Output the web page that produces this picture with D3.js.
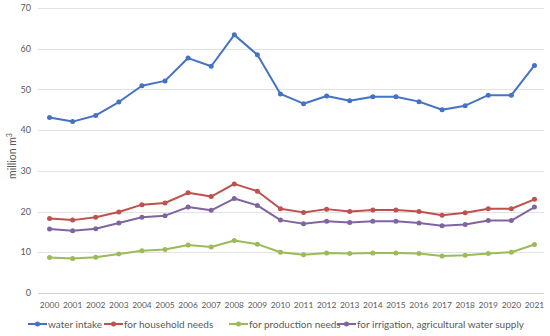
<!DOCTYPE html>
<html>
<head>
<meta charset="utf-8">
<script src="https://cdn.jsdelivr.net/npm/d3@7"></script>
<style>
  body { margin: 0; background: #fff; }
  text { font-family: Lato, "Open Sans", sans-serif; fill: #595959; }
</style>
</head>
<body>
<div id="chart"></div>
<script>
var years = ["2000","2001","2002","2003","2004","2005","2006","2007","2008","2009","2010",
             "2011","2012","2013","2014","2015","2016","2017","2018","2019","2020","2021"];

var waterIntake = [43.1, 42.1, 43.6, 46.9, 50.9, 52.1, 57.7, 55.7, 63.4, 58.5, 48.9,
                   46.5, 48.4, 47.2, 48.2, 48.2, 47.0, 45.0, 46.0, 48.6, 48.6, 55.9];
var household = [18.3, 17.9, 18.6, 19.9, 21.7, 22.1, 24.6, 23.7, 26.8, 25.0, 20.7,
                 19.8, 20.6, 20.0, 20.4, 20.4, 20.0, 19.1, 19.7, 20.7, 20.7, 23.0];
var production = [8.7, 8.5, 8.8, 9.6, 10.4, 10.7, 11.8, 11.3, 12.9, 12.0, 10.0,
                  9.4, 9.8, 9.7, 9.8, 9.8, 9.7, 9.1, 9.3, 9.7, 10.0, 11.9];
var irrigation = [15.7, 15.3, 15.8, 17.2, 18.6, 19.0, 21.1, 20.3, 23.2, 21.5, 17.9,
                  17.0, 17.6, 17.3, 17.6, 17.6, 17.2, 16.5, 16.8, 17.8, 17.8, 21.1];

var seriesNames = ["water intake", "for household needs", "for production needs",
                   "for irrigation, agricultural water supply"];
var seriesColors = ["#4472C4", "#C0504D", "#9BBB59", "#8064A2"];
var yTicks = [0, 10, 20, 30, 40, 50, 60, 70];

var width = 550, height = 336;
var margin = {top: 8, right: 4, bottom: 43, left: 38};

var svg = d3.select("#chart").append("svg")
  .attr("width", width)
  .attr("height", height);

var x = d3.scaleBand()
  .domain(years)
  .range([margin.left, width - margin.right]);

var y = d3.scaleLinear()
  .domain([0, 70])
  .range([height - margin.bottom, margin.top]);

// gridlines
svg.append("g")
  .selectAll("line")
  .data(yTicks)
  .enter()
  .append("line")
  .attr("x1", margin.left)
  .attr("x2", width - margin.right - 2)
  .attr("y1", d => Math.round(y(d)) + 0.5)
  .attr("y2", d => Math.round(y(d)) + 0.5)
  .style("stroke", d => d === 0 ? "#d0d0d0" : "#e2e2e2")
  .style("stroke-width", 1);

// y labels
svg.append("g")
  .selectAll("text")
  .data(yTicks)
  .enter()
  .append("text")
  .attr("x", 31)
  .attr("y", d => y(d))
  .attr("dy", "0.35em")
  .attr("text-anchor", "end")
  .style("font-size", "9px")
  .text(d => d);

// x labels
svg.append("g")
  .selectAll("text")
  .data(years)
  .enter()
  .append("text")
  .attr("x", d => x(d) + x.bandwidth() / 2)
  .attr("y", 308)
  .attr("text-anchor", "middle")
  .style("font-size", "8.4px")
  .text(d => d);

// axis title
var title = svg.append("text")
  .attr("transform", "translate(16,156) rotate(-90)")
  .attr("text-anchor", "middle")
  .style("font-size", "10.5px");
title.append("tspan").text("million m");
title.append("tspan").attr("dy", -4).style("font-size", "7px").text("3");

var allSeries = [waterIntake, household, production, irrigation];

var line = d3.line()
  .x((d, i) => x(years[i]) + x.bandwidth() / 2)
  .y(d => y(d));

allSeries.forEach(function(vals, k) {
  var g = svg.append("g");
  g.append("path")
    .datum(vals)
    .attr("d", line)
    .style("fill", "none")
    .style("stroke", seriesColors[k])
    .style("stroke-width", 2)
    .style("stroke-linejoin", "round");
  g.selectAll("circle")
    .data(vals)
    .enter()
    .append("circle")
    .attr("cx", (d, i) => x(years[i]) + x.bandwidth() / 2)
    .attr("cy", d => y(d))
    .attr("r", 2.5)
    .style("fill", seriesColors[k]);
});

// legend
var legendX = [28, 104, 229, 337];
var legend = svg.append("g").attr("class", "legend");
var legendTexts = [];
seriesNames.forEach(function(name, k) {
  var lg = legend.append("g").attr("transform", "translate(" + legendX[k] + ",324)");
  lg.append("line").attr("x1", 0).attr("x2", 19).attr("y1", 0).attr("y2", 0)
    .style("stroke", seriesColors[k]).style("stroke-width", 2);
  lg.append("circle").attr("cx", 9.5).attr("cy", 0).attr("r", 2.5).style("fill", seriesColors[k]);
  legendTexts.push(lg.append("text").attr("x", 20).attr("y", 0).attr("dy", "0.35em")
    .style("font-size", "10px").text(name));
});
// fit legend font to the width the last label takes in the original (about 167px)
var len = legendTexts[3].node().getComputedTextLength();
var fs = Math.min(10.5, 10 * 167 / len);
legendTexts.forEach(t => t.style("font-size", fs + "px"));
</script>
</body>
</html>
